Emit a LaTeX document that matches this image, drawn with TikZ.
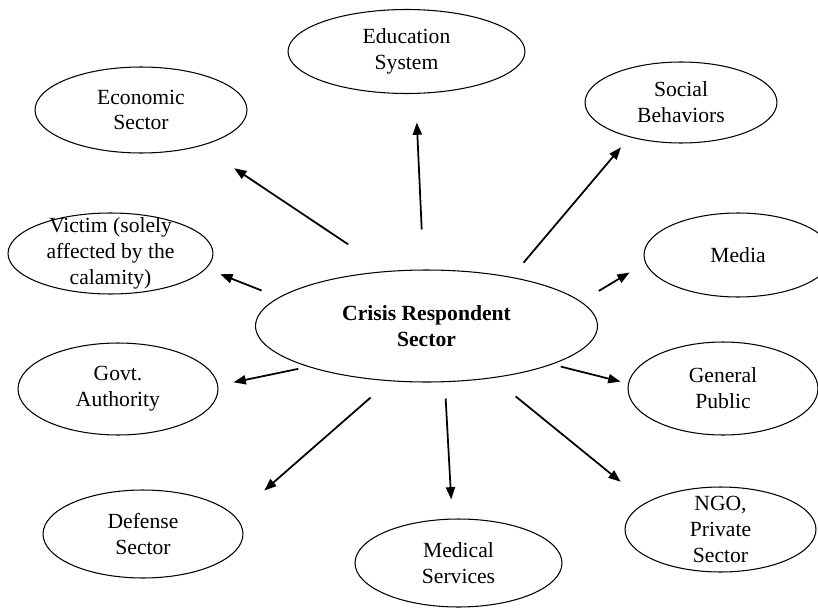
\documentclass[tikz,border=0pt]{standalone}
\usepackage{fontspec}
\setmainfont{Liberation Serif}
\usetikzlibrary{arrows.meta,shapes.geometric}

\begin{document}
\begin{tikzpicture}[x=0.02cm,y=-0.02cm,
    sector/.style={draw,ellipse,line width=0.6pt,inner sep=0pt,align=center,
        font=\fontsize{12.3}{14.7}\selectfont},
    fleche/.style={-{Triangle[length=7pt,width=5.2pt]},line width=1pt}]
    \useasboundingbox (0,0) rectangle (818,608);

    % Centre
    \node[sector,minimum width=6.84cm,minimum height=2.24cm,
        font=\fontsize{12.3}{14.7}\selectfont\bfseries] (crisis) at (426.5,326) {Crisis Respondent\\Sector};

    % Secteurs
    \node[sector,minimum width=4.74cm,minimum height=1.68cm] (edu) at (406.5,51.5) {Education\\System};
    \node[sector,minimum width=4.24cm,minimum height=1.72cm] (econ) at (141,110) {Economic\\Sector};
    \node[sector,minimum width=3.84cm,minimum height=1.62cm] (soc) at (681,102.5) {Social\\Behaviors};
    \node[sector,minimum width=4.10cm,minimum height=1.62cm,inner ysep=-8pt] (victim) at (110.5,253.5) {Victim (solely\\affected by the\\calamity)};
    \node[sector,minimum width=3.76cm,minimum height=1.68cm] (media) at (738,255) {Media};
    \node[sector,minimum width=4.00cm,minimum height=1.84cm] (govt) at (118,389) {Govt.\\Authority};
    \node[sector,minimum width=3.80cm,minimum height=1.86cm] (public) at (723,388.5) {General\\Public};
    \node[sector,minimum width=4.00cm,minimum height=1.76cm] (defense) at (143,534) {Defense\\Sector};
    \node[sector,minimum width=4.14cm,minimum height=1.76cm] (medical) at (458.5,563) {Medical\\Services};
    \node[sector,minimum width=3.82cm,minimum height=1.70cm,inner ysep=-8pt] (ngo) at (720.5,529.5) {NGO,\\Private\\Sector};

    % Fleches
    \draw[fleche,shorten <=27.2pt,shorten >=22.8pt] (crisis.125.3) -- (econ.-31.4);
    \draw[fleche,shorten <=10.5pt,shorten >=8.6pt] (crisis.169.1) -- (victim.-9.4);
    \draw[fleche,shorten <=22.8pt,shorten >=16.3pt] (crisis.93.7) -- (edu.-78.9);
    \draw[fleche,shorten <=10.6pt,shorten >=7.6pt] (crisis.30) -- (soc.-146.3);
    \draw[fleche,shorten <=11.7pt,shorten >=10.4pt] (crisis.9) -- (media.-175.2);
    \draw[fleche,shorten <=5.6pt,shorten >=8.9pt] (crisis.-161.6) -- (govt.2.1);
    \draw[fleche,shorten <=14.1pt,shorten >=22.1pt] (crisis.-124.6) -- (defense.11.5);
    \draw[fleche,shorten <=9.3pt,shorten >=10.9pt] (crisis.-72.6) -- (medical.98.3);
    \draw[fleche,shorten <=5.0pt,shorten >=4.4pt] (crisis.-17.6) -- (public.177.2);
    \draw[fleche,shorten <=16.5pt,shorten >=18.6pt] (crisis.-38.1) -- (ngo.160);
\end{tikzpicture}
\end{document}
